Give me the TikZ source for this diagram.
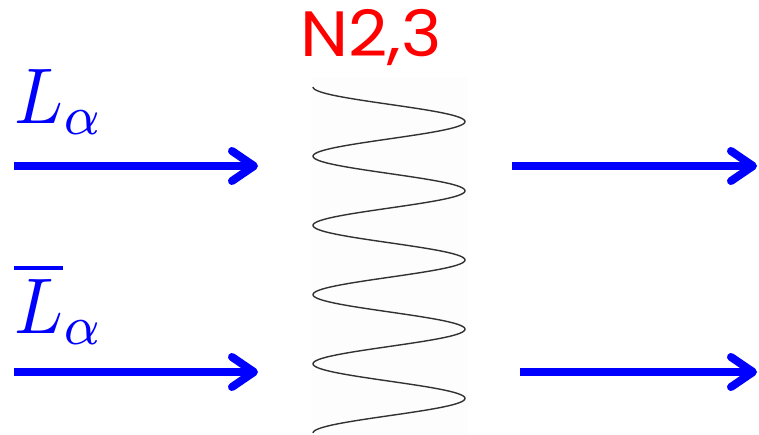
\documentclass[tikz,border=0pt]{standalone}
\usepackage{fontspec}
\usetikzlibrary{arrows.meta}
\newfontfamily\labelfont{Poppins}
\definecolor{arrowblue}{RGB}{0,0,255}
\definecolor{labelred}{RGB}{255,0,0}
\definecolor{wavegray}{RGB}{50,50,50}
\begin{document}
\begin{tikzpicture}[x=1pt,y=1pt,
  flow/.style={draw=arrowblue, line width=8pt,
    -{Straight Barb[length=22pt,width=30pt,line width=8pt,round]}},
  mathlabel/.style={text=arrowblue, inner sep=0pt, anchor=base west,
    font=\fontsize{10}{12}\selectfont},
  titlelabel/.style={text=labelred, inner sep=0pt, anchor=base west,
    font=\labelfont\fontsize{64}{70}\selectfont},
  wave/.style={draw=wavegray, line width=1.4pt}]
\useasboundingbox (0,0) rectangle (759,434);
% background strip behind the wave
\fill[black!0.7] (311,0) rectangle (468,356);
% wave
\draw[wave] plot[domain=0:5, samples=400, smooth]
  ({389-76*cos(360*\x)}, {434-(87+69.2*\x)});
% labels
\node[titlelabel] (title) at (300,377) {\scalebox{1.07}[1]{N2,3}};
\node[mathlabel] (la) at (14,311) {\scalebox{7.2}[7.9]{$L_\alpha$}};
\node[mathlabel] (lb) at (14,101) {\scalebox{7.2}[7.9]{$\overline{L}_\alpha$}};
% arrow end points
\coordinate (a1s) at (14,268);
\coordinate (a1e) at (258,268);
\coordinate (a2s) at (512,268);
\coordinate (a2e) at (757,268);
\coordinate (b1s) at (14,62);
\coordinate (b1e) at (258,62);
\coordinate (b2s) at (520,62);
\coordinate (b2e) at (757,62);
\draw[flow] (a1s) -- (a1e);
\draw[flow] (a2s) -- (a2e);
\draw[flow] (b1s) -- (b1e);
\draw[flow] (b2s) -- (b2e);
\end{tikzpicture}
\end{document}
